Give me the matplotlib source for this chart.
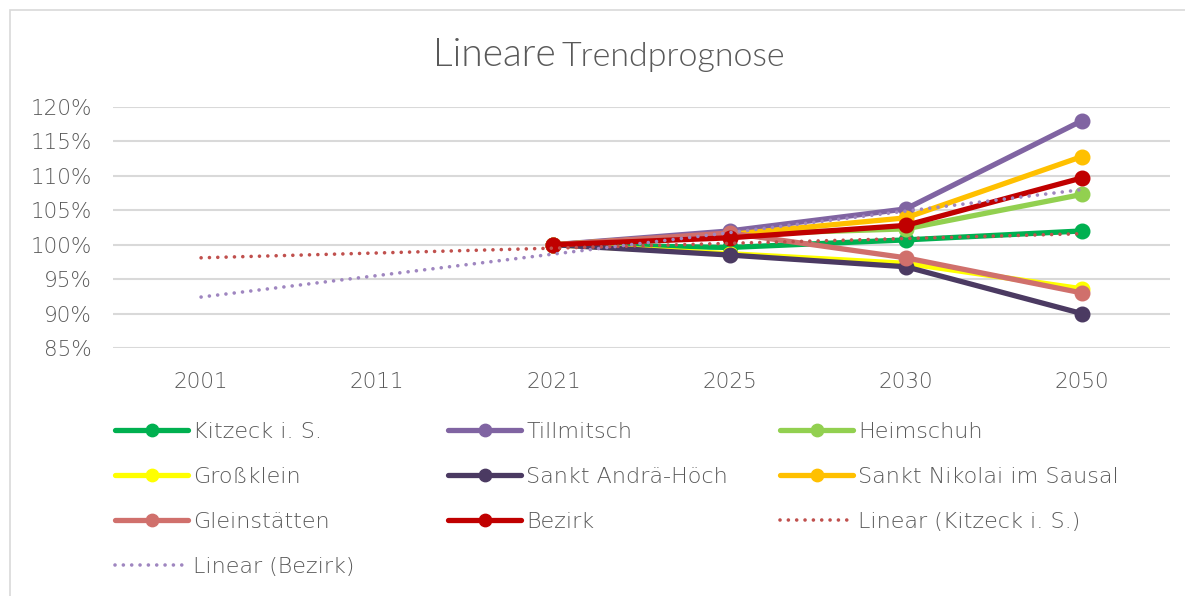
import numpy as np
import matplotlib
matplotlib.use("Agg")
import matplotlib.pyplot as plt
from matplotlib.patches import Rectangle
from matplotlib.ticker import FuncFormatter

plt.rcParams['font.family'] = ['DejaVu Sans']
plt.rcParams['font.weight'] = 200

years = ["2001", "2011", "2021", "2025", "2030", "2050"]
nan = np.nan

kitzeck = [nan, nan, 100.0, 99.6, 100.7, 102.0]
tillmitsch = [nan, nan, 100.0, 102.0, 105.2, 118.0]
heimschuh = [nan, nan, 100.0, 101.5, 102.3, 107.3]
grossklein = [nan, nan, 100.0, 98.7, 97.3, 93.6]
andrae = [nan, nan, 100.0, 98.5, 96.8, 90.0]
nikolai = [nan, nan, 100.0, 101.5, 103.9, 112.8]
gleinstaetten = [nan, nan, 100.0, 101.7, 98.1, 93.0]
bezirk = [nan, nan, 100.0, 101.0, 102.8, 109.7]

# trendline end points (first / last category)
trend_kitzeck = [98.1, 101.6]
trend_bezirk = [92.4, 108.0]

series = [
    ("Kitzeck i. S.", kitzeck, "#00B050"),
    ("Tillmitsch", tillmitsch, "#8064A2"),
    ("Heimschuh", heimschuh, "#92D050"),
    ("Großklein", grossklein, "#FFFF00"),
    ("Sankt Andrä-Höch", andrae, "#4B3A62"),
    ("Sankt Nikolai im Sausal", nikolai, "#FFC000"),
    ("Gleinstätten", gleinstaetten, "#D0706C"),
    ("Bezirk", bezirk, "#C00000"),
]

text_col = "#595959"
fig = plt.figure(figsize=(11.85, 5.96), dpi=100)
ax = fig.add_axes([113 / 1185, 1 - 348 / 596, (1170 - 113) / 1185, (348 - 107) / 596])

x = np.arange(len(years))
handles = []
for name, vals, col in series:
    h, = ax.plot(x, vals, color=col, lw=3.8, marker="o", ms=10.5,
                 solid_capstyle="round", label=name, zorder=3)
    handles.append(h)

dots = (0, (0.01, 2.3))
t1, = ax.plot([x[0], x[-1]], trend_kitzeck, color="#C0504D", lw=2.6,
              ls=dots, dash_capstyle="round", label="Linear (Kitzeck i. S.)", zorder=4)
t2, = ax.plot([x[0], x[-1]], trend_bezirk, color="#9F86C0", lw=2.6,
              ls=dots, dash_capstyle="round", label="Linear (Bezirk)", zorder=4)
handles += [t1, t2]

ax.set_xlim(-0.5, len(years) - 0.5)
ax.set_ylim(85, 120)
ax.set_yticks(np.arange(85, 121, 5))
ax.yaxis.set_major_formatter(FuncFormatter(lambda v, p: f"{v:.0f}%"))
ax.set_xticks(x)
ax.set_xticklabels(years)
ax.grid(axis="y", color="#D9D9D9", lw=1.5)
ax.set_axisbelow(True)
for s in ax.spines.values():
    s.set_visible(False)
ax.tick_params(axis="x", length=0, labelsize=15.5, labelcolor=text_col, pad=17)
ax.tick_params(axis="y", length=0, labelsize=15.5, labelcolor=text_col, pad=15)

# title
fig.text(556 / 1185, 1 - 66 / 596, "Lineare", fontsize=28, color=text_col,
         family="Lato", weight=300, ha="right", va="baseline")
fig.text(562 / 1185, 1 - 66 / 596, "Trendprognose", fontsize=24.5, color=text_col,
         family="Lato", weight=300, ha="left", va="baseline")

# legend, row-wise order in three columns
col_x = [115, 448, 780]
for c in range(3):
    hs = handles[c::3]
    fig.legend(handles=hs, labels=[h.get_label() for h in hs],
               loc="upper left", bbox_to_anchor=(col_x[c] / 1185, 1 - 422 / 596),
               frameon=False, fontsize=16, labelcolor=text_col, markerscale=0.85,
               handlelength=3.3, handletextpad=0.22, labelspacing=1.12,
               borderaxespad=0, borderpad=0)

fig.patches.append(Rectangle((10 / 1185, -0.05), 1.1, 1 - 10 / 596 + 0.05,
                             transform=fig.transFigure, fill=False,
                             edgecolor="#D9D9D9", lw=1.2))

fig.savefig("out.png", dpi=100)
